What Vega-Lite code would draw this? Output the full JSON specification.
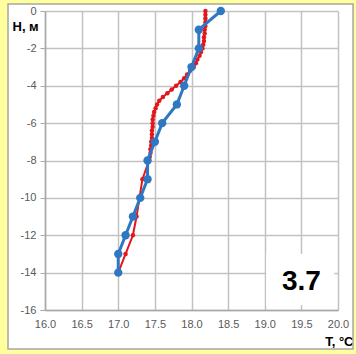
{
  "$schema": "https://vega.github.io/schema/vega-lite/v6.json",
  "width": 293,
  "height": 299,
  "autosize": "none",
  "padding": {"left": 45, "top": 11, "right": 18, "bottom": 44},
  "background": "#FFFFFF",
  "config": {
    "view": {"stroke": null},
    "font": "Liberation Sans",
    "axis": {"labelOverlap": false, "labelFlush": false, "labelBound": false},
    "axisX": {
      "values": [16, 16.5, 17, 17.5, 18, 18.5, 19, 19.5, 20],
      "format": ".1f",
      "grid": true, "gridColor": "#C2C2C2", "gridWidth": 1.5,
      "domainColor": "#A8A8A8", "domainWidth": 1.5,
      "ticks": false, "labelPadding": 8,
      "labelFont": "Liberation Sans", "labelFontSize": 11, "labelColor": "#595959",
      "titleFont": "Liberation Sans", "titleFontSize": 13, "titleFontWeight": "bold",
      "titleColor": "#000000", "titleX": 308, "titleY": 35, "titleAlign": "right", "titleBaseline": "alphabetic"
    },
    "axisY": {
      "values": [-16, -14, -12, -10, -8, -6, -4, -2, 0],
      "labelExpr": "datum.value < 0 ? '-' + format(-datum.value, 'd') : format(datum.value, 'd')",
      "grid": true, "gridColor": "#C2C2C2", "gridWidth": 1.5,
      "domainColor": "#A8A8A8", "domainWidth": 1.5,
      "ticks": true, "tickSize": 5, "tickColor": "#A8A8A8", "labelPadding": 4,
      "labelFont": "Liberation Sans", "labelFontSize": 11, "labelColor": "#595959",
      "titleFont": "Liberation Sans", "titleFontSize": 13, "titleFontWeight": "bold",
      "titleColor": "#000000", "titleAngle": 0, "titleX": -33, "titleY": 19, "titleAlign": "left", "titleBaseline": "alphabetic"
    }
  },
  "datasets": {
    "profile": [
      {"T": 18.19, "H": 0}, {"T": 18.19, "H": -0.2}, {"T": 18.19, "H": -0.4},
      {"T": 18.19, "H": -0.6}, {"T": 18.19, "H": -0.8}, {"T": 18.18, "H": -1.0},
      {"T": 18.18, "H": -1.2}, {"T": 18.17, "H": -1.4}, {"T": 18.17, "H": -1.6},
      {"T": 18.16, "H": -1.8}, {"T": 18.15, "H": -2.0}, {"T": 18.13, "H": -2.2},
      {"T": 18.11, "H": -2.4}, {"T": 18.08, "H": -2.6}, {"T": 18.06, "H": -2.8},
      {"T": 18.03, "H": -3.0}, {"T": 17.98, "H": -3.2}, {"T": 17.94, "H": -3.4},
      {"T": 17.9, "H": -3.6}, {"T": 17.85, "H": -3.8}, {"T": 17.79, "H": -4.0},
      {"T": 17.73, "H": -4.2}, {"T": 17.67, "H": -4.4}, {"T": 17.61, "H": -4.6},
      {"T": 17.56, "H": -4.8}, {"T": 17.53, "H": -5.0}, {"T": 17.51, "H": -5.2},
      {"T": 17.49, "H": -5.4}, {"T": 17.48, "H": -5.6}, {"T": 17.47, "H": -5.8},
      {"T": 17.47, "H": -6.0}, {"T": 17.47, "H": -6.2}, {"T": 17.46, "H": -6.4},
      {"T": 17.46, "H": -6.6}, {"T": 17.46, "H": -6.8}, {"T": 17.45, "H": -7.0},
      {"T": 17.45, "H": -7.2}, {"T": 17.44, "H": -7.4}, {"T": 17.44, "H": -7.6},
      {"T": 17.43, "H": -7.8}, {"T": 17.42, "H": -8.0}, {"T": 17.33, "H": -9},
      {"T": 17.29, "H": -10}, {"T": 17.25, "H": -11}, {"T": 17.2, "H": -12},
      {"T": 17.1, "H": -13}, {"T": 17.0, "H": -14}
    ],
    "station": [
      {"T": 18.4, "H": 0}, {"T": 18.1, "H": -1}, {"T": 18.1, "H": -2},
      {"T": 18.0, "H": -3}, {"T": 17.9, "H": -4}, {"T": 17.8, "H": -5},
      {"T": 17.6, "H": -6}, {"T": 17.5, "H": -7}, {"T": 17.4, "H": -8},
      {"T": 17.4, "H": -9}, {"T": 17.3, "H": -10}, {"T": 17.2, "H": -11},
      {"T": 17.1, "H": -12}, {"T": 17.0, "H": -13}, {"T": 17.0, "H": -14}
    ],
    "tag": [{"label": "3.7"}]
  },
  "layer": [
    {
      "data": {"name": "station"},
      "mark": {"type": "line", "color": "#2E77C3", "strokeWidth": 3, "opacity": 0},
      "encoding": {
        "x": {"field": "T", "type": "quantitative", "title": "T, °C",
              "scale": {"domain": [16, 20], "nice": false, "zero": false}},
        "y": {"field": "H", "type": "quantitative", "title": "H, м",
              "scale": {"domain": [-16, 0], "nice": false, "zero": false}}
      }
    },
    {
      "description": "yellow outer margin around the white sheet",
      "data": {"name": "tag"},
      "mark": {"type": "rect", "fill": "#FFFFFF", "fillOpacity": 0, "stroke": "#FFFF9E", "strokeWidth": 16},
      "encoding": {
        "x": {"datum": 15.386, "type": "quantitative", "title": "T, °C"},
        "x2": {"datum": 20.314},
        "y": {"datum": 0.803, "type": "quantitative", "title": "H, м"},
        "y2": {"datum": -18.515}
      }
    },
    {
      "description": "grey frame of the sheet",
      "data": {"name": "tag"},
      "mark": {"type": "rect", "fill": "#FFFFFF", "fillOpacity": 0, "stroke": "#A6A6A6", "strokeWidth": 1.5},
      "encoding": {
        "x": {"datum": 15.495, "type": "quantitative", "title": "T, °C"},
        "x2": {"datum": 20.205},
        "y": {"datum": 0.375, "type": "quantitative", "title": "H, м"},
        "y2": {"datum": -18.087}
      }
    },
    {
      "description": "white box behind the station number",
      "data": {"name": "tag"},
      "mark": {"type": "rect", "fill": "#FFFFFF"},
      "encoding": {
        "x": {"datum": 19.02, "type": "quantitative", "title": "T, °C"},
        "x2": {"datum": 19.95},
        "y": {"datum": -13.0, "type": "quantitative", "title": "H, м"},
        "y2": {"datum": -15.73}
      }
    },
    {
      "data": {"name": "tag"},
      "mark": {"type": "text", "font": "Liberation Sans", "fontSize": 28, "fontWeight": "bold",
               "color": "#000000", "align": "center", "baseline": "alphabetic"},
      "encoding": {
        "x": {"datum": 19.5, "type": "quantitative", "title": "T, °C"},
        "y": {"datum": -14.93, "type": "quantitative", "title": "H, м"},
        "text": {"field": "label"}
      }
    },
    {
      "data": {"name": "profile"},
      "mark": {"type": "line", "color": "#E3161C", "strokeWidth": 2},
      "encoding": {
        "x": {"field": "T", "type": "quantitative", "title": "T, °C"},
        "y": {"field": "H", "type": "quantitative", "title": "H, м"},
        "order": {"field": "H", "sort": "descending"}
      }
    },
    {
      "data": {"name": "profile"},
      "mark": {"type": "point", "filled": true, "color": "#E3161C", "size": 20, "opacity": 1},
      "encoding": {
        "x": {"field": "T", "type": "quantitative", "title": "T, °C"},
        "y": {"field": "H", "type": "quantitative", "title": "H, м"}
      }
    },
    {
      "data": {"name": "station"},
      "mark": {"type": "line", "color": "#2E77C3", "strokeWidth": 3},
      "encoding": {
        "x": {"field": "T", "type": "quantitative", "title": "T, °C"},
        "y": {"field": "H", "type": "quantitative", "title": "H, м"},
        "order": {"field": "H", "sort": "descending"}
      }
    },
    {
      "data": {"name": "station"},
      "mark": {"type": "point", "filled": true, "color": "#2E77C3", "size": 70, "opacity": 1},
      "encoding": {
        "x": {"field": "T", "type": "quantitative", "title": "T, °C"},
        "y": {"field": "H", "type": "quantitative", "title": "H, м"}
      }
    }
  ]
}
